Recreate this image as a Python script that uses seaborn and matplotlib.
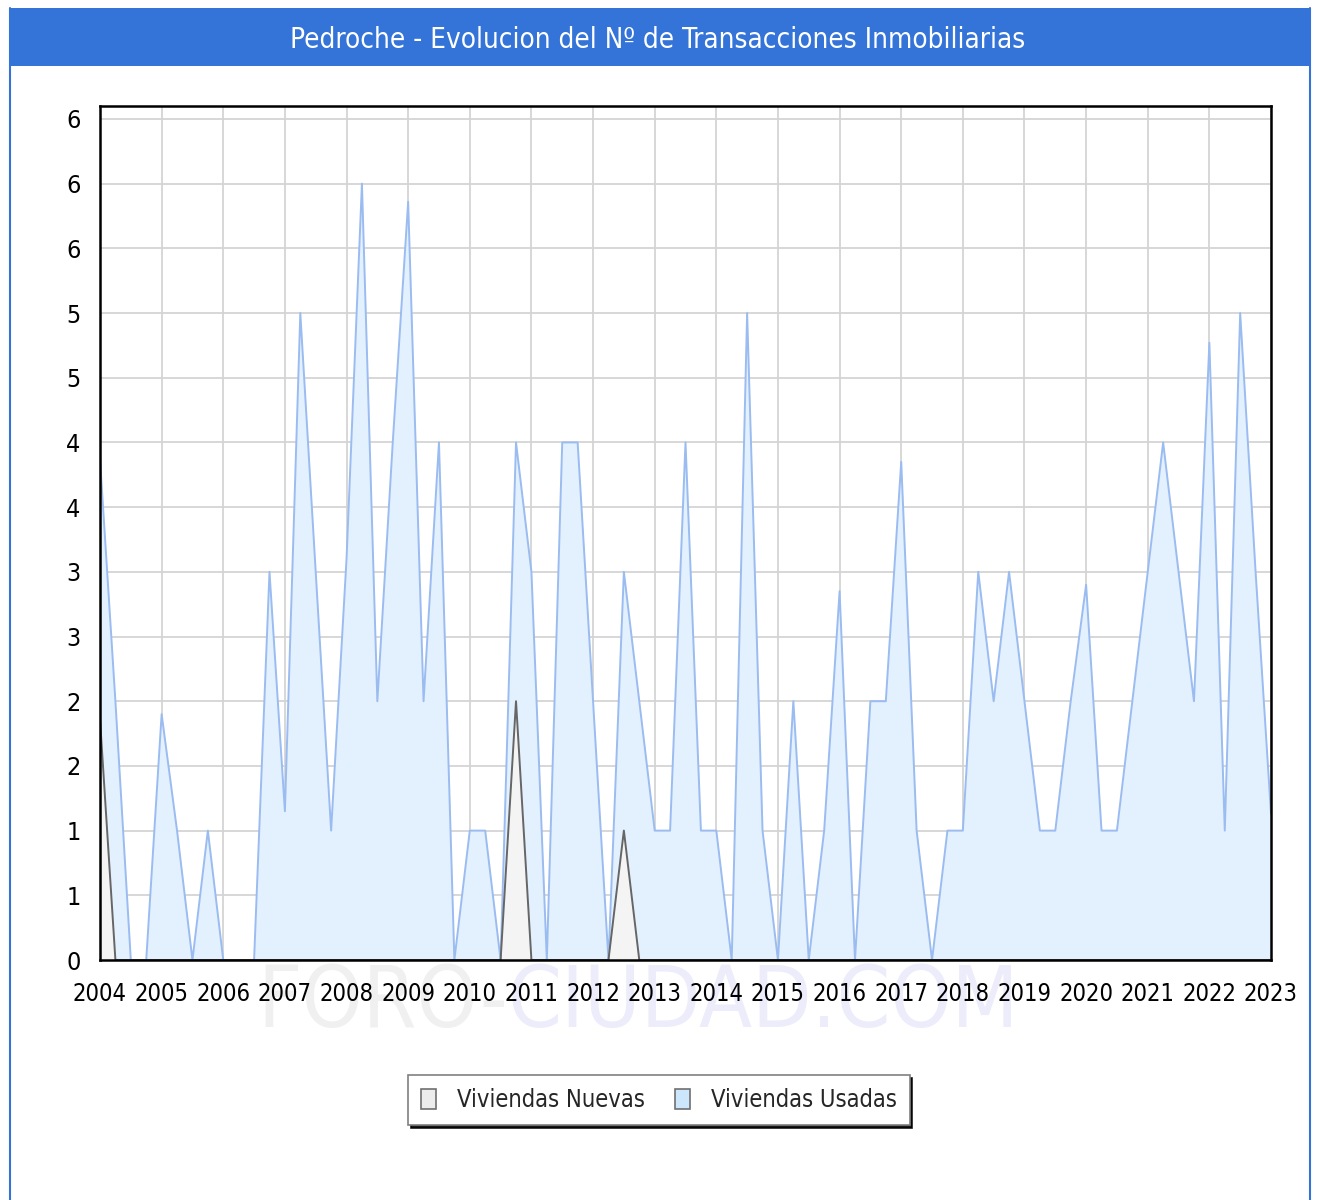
import numpy as np
import pandas as pd
import matplotlib
matplotlib.use("Agg")
import matplotlib.pyplot as plt
from matplotlib.patches import Patch, Rectangle
from matplotlib.lines import Line2D
import seaborn as sns

#%% datos trimestrales, 2004 T1 .. 2023 T1

usadas = [3.87, 2, 0, 0,      # 2004
          1.9, 1, 0, 1,       # 2005
          0, 0, 0, 3,         # 2006
          1.15, 5, 3, 1,      # 2007
          3.1, 6, 2, 4,       # 2008
          5.86, 2, 4, 0,      # 2009
          1, 1, 0, 4,         # 2010
          3, 0, 4, 4,         # 2011
          2, 0, 3, 2,         # 2012
          1, 1, 4, 1,         # 2013
          1, 0, 5, 1,         # 2014
          0, 2, 0, 1,         # 2015
          2.85, 0, 2, 2,      # 2016
          3.85, 1, 0, 1,      # 2017
          1, 3, 2, 3,         # 2018
          2, 1, 1, 2,         # 2019
          2.9, 1, 1, 2,       # 2020
          3, 4, 3, 2,         # 2021
          4.77, 1, 5, 3,      # 2022
          1.13]               # 2023

nuevas = [1.86, 0, 0, 0,      # 2004
          0, 0, 0, 0,         # 2005
          0, 0, 0, 0,         # 2006
          0, 0, 0, 0,         # 2007
          0, 0, 0, 0,         # 2008
          0, 0, 0, 0,         # 2009
          0, 0, 0, 2,         # 2010
          0, 0, 0, 0,         # 2011
          0, 0, 1, 0,         # 2012
          0, 0, 0, 0,         # 2013
          0, 0, 0, 0,         # 2014
          0, 0, 0, 0,         # 2015
          0, 0, 0, 0,         # 2016
          0, 0, 0, 0,         # 2017
          0, 0, 0, 0,         # 2018
          0, 0, 0, 0,         # 2019
          0, 0, 0, 0,         # 2020
          0, 0, 0, 0,         # 2021
          0, 0, 0, 0,         # 2022
          0]                  # 2023

years = list(range(2004, 2024))
y_ticks = [0, 0.5, 1, 1.5, 2, 2.5, 3, 3.5, 4, 4.5, 5, 5.5, 6, 6.5]
y_tick_labels = ["0", "1", "1", "2", "2", "3", "3", "4", "4", "5", "5", "6", "6", "6"]

series_names = ["Viviendas Usadas", "Viviendas Nuevas"]
title = "Pedroche - Evolucion del Nº de Transacciones Inmobiliarias"

#%% dataframe

fecha = 2004 + np.arange(len(usadas)) / 4
df = pd.concat([
    pd.DataFrame({"fecha": fecha, "valor": usadas, "tipo": series_names[0]}),
    pd.DataFrame({"fecha": fecha, "valor": nuevas, "tipo": series_names[1]}),
])

#%% estilo

sns.set_style("white")
plt.rcParams["font.family"] = ["DejaVu Sans"]
plt.rcParams["font.stretch"] = "condensed"

fill_colors = {"Viviendas Usadas": "#e3f0fe", "Viviendas Nuevas": "#f4f4f4"}
line_colors = {"Viviendas Usadas": "#9bbcf0", "Viviendas Nuevas": "#666666"}
legend_colors = {"Viviendas Usadas": "#cce6fc", "Viviendas Nuevas": "#ececec"}

W, H = 1319, 1200
fig = plt.figure(figsize=(W / 100, H / 100), dpi=100)
fig.patch.set_facecolor("white")

# barra de titulo y marco azul
fig.add_artist(Rectangle((10 / W, 1 - 66 / H), 1300 / W, 58 / H, transform=fig.transFigure,
                         facecolor="#3473d8", edgecolor="none", zorder=-2))
for xpix in (10, 1310):
    fig.add_artist(Line2D([xpix / W, xpix / W], [0, 1 - 8 / H], transform=fig.transFigure,
                          color="#3473d8", lw=1.5, zorder=-2))
fig.text(658 / W, 1 - 40 / H, title, ha="center", va="center", color="white", fontsize=20)

# marca de agua (por debajo de los ejes)
fig.text(508 / W, 1 - 1003 / H, "FORO-", ha="right", va="center", color="#f0f0f0", fontsize=62, zorder=-1)
fig.text(508 / W, 1 - 1003 / H, "CIUDAD.COM", ha="left", va="center", color="#ececfb", fontsize=62, zorder=-1)

ax = fig.add_axes([100 / W, 1 - 960 / H, 1171 / W, 854 / H])
ax.patch.set_alpha(0)

#%% areas y lineas

for name in series_names:
    sub = df[df["tipo"] == name]
    z = 2 if name == "Viviendas Usadas" else 3
    ax.fill_between(sub["fecha"], 0, sub["valor"], color=fill_colors[name], lw=0, zorder=z)

sns.lineplot(data=df, x="fecha", y="valor", hue="tipo", hue_order=series_names,
             palette=line_colors, linewidth=1.4, legend=False, ax=ax, zorder=4)
ax.lines[1].set_zorder(5)

#%% ejes

ax.set_xlim(2004, 2023)
ax.set_ylim(0, 6.6)
ax.set_xticks(years)
ax.set_xticklabels([str(y) for y in years])
ax.set_yticks(y_ticks)
ax.set_yticklabels(y_tick_labels)
ax.set_xlabel("")
ax.set_ylabel("")
ax.grid(True, color="#d4d4d4", lw=1.3, zorder=0)
ax.set_axisbelow(True)
ax.tick_params(axis="both", length=0, colors="black")
ax.tick_params(axis="x", pad=16, labelsize=17)
ax.tick_params(axis="y", pad=14, labelsize=18)
for sp in ax.spines.values():
    sp.set_visible(True)
    sp.set_color("black")
    sp.set_linewidth(1.8)
    sp.set_zorder(6)

#%% leyenda

handles = [Patch(facecolor=legend_colors[n], edgecolor="#707070", lw=1.2, label=n) for n in series_names[::-1]]
leg = fig.legend(handles=handles, loc="center", bbox_to_anchor=(659 / W, 1 - 1100 / H), ncol=2,
                 fontsize=17, frameon=True, fancybox=False, shadow={"color": "black", "alpha": 0.9},
                 handlelength=0.6, handleheight=0.9, handletextpad=0.9, columnspacing=1.3,
                 borderpad=0.55, edgecolor="#808080")
leg.get_frame().set_linewidth(1.2)

fig.savefig("out.png", dpi=100)
